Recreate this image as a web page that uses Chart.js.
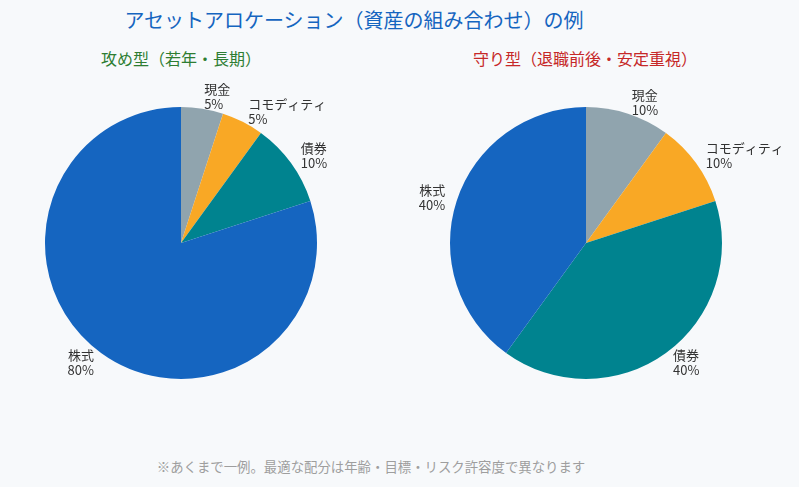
<!DOCTYPE html>
<html lang="ja">
<head>
<meta charset="utf-8">
<script src="https://cdn.jsdelivr.net/npm/chart.js@4"></script>
<style>
  html, body { margin: 0; padding: 0; }
  body {
    width: 799px; height: 487px; background: #f7f9fb; position: relative; overflow: hidden;
    font-family: "Noto Sans CJK JP", "Noto Sans", sans-serif;
  }
  .txt { position: absolute; white-space: nowrap; transform: translateX(-50%); line-height: 1; }
  #title { left: 354px; top: 10px; font-size: 20px; color: #1565c0; }
  .sub { top: 50px; font-size: 16px; }
  #subLeft { left: 181px; color: #2e7d32; }
  #subRight { left: 585px; color: #c62828; }
  #note { left: 371px; top: 460px; font-size: 13.4px; color: #9e9e9e; }
  .box { position: absolute; top: 68px; width: 400px; height: 350px; }
  #boxLeft { left: 0; }
  #boxRight { left: 405px; }
</style>
</head>
<body>
<div id="title" class="txt">アセットアロケーション（資産の組み合わせ）の例</div>
<div id="subLeft" class="txt sub">攻め型（若年・長期）</div>
<div id="subRight" class="txt sub">守り型（退職前後・安定重視）</div>
<div class="box" id="boxLeft"><canvas id="pieLeft"></canvas></div>
<div class="box" id="boxRight"><canvas id="pieRight"></canvas></div>
<div id="note" class="txt">※あくまで一例。最適な配分は年齢・目標・リスク許容度で異なります</div>
<script>
// データ
const categories = ['現金', 'コモディティ', '債券', '株式'];
const aggressive = [5, 5, 10, 80];
const conservative = [10, 10, 40, 40];
const sliceColors = ['#90a4ae', '#f9a825', '#00838f', '#1565c0'];

// 円の外側にラベルを描く
const outerLabels = {
    id: 'outerLabels',
    afterDatasetsDraw(chart) {
        const ctx = chart.ctx;
        const values = chart.data.datasets[0].data;
        chart.getDatasetMeta(0).data.forEach(function(arc, i) {
            const mid = (arc.startAngle + arc.endAngle) / 2;
            const d = arc.outerRadius + 12;
            const x = arc.x + Math.cos(mid) * d;
            const y = arc.y + Math.sin(mid) * d;
            ctx.save();
            ctx.font = '13px "Noto Sans CJK JP", sans-serif';
            ctx.fillStyle = '#333';
            ctx.textAlign = Math.cos(mid) >= 0 ? 'left' : 'right';
            ctx.textBaseline = 'middle';
            ctx.fillText(chart.data.labels[i], x, y - 7.5);
            ctx.fillText(values[i] + '%', x, y + 7.5);
            ctx.restore();
        });
    }
};

function makePie(id, values) {
    return new Chart(document.getElementById(id), {
        type: 'pie',
        data: {
            labels: categories,
            datasets: [{
                data: values,
                backgroundColor: sliceColors,
                borderWidth: 0
            }]
        },
        options: {
            responsive: true,
            maintainAspectRatio: false,
            animation: false,
            layout: { padding: { left: 39, right: 77, top: 39, bottom: 39 } },
            plugins: {
                legend: { display: false },
                tooltip: { enabled: false }
            }
        },
        plugins: [outerLabels]
    });
}

makePie('pieLeft', aggressive);
makePie('pieRight', conservative);
</script>
</body>
</html>
